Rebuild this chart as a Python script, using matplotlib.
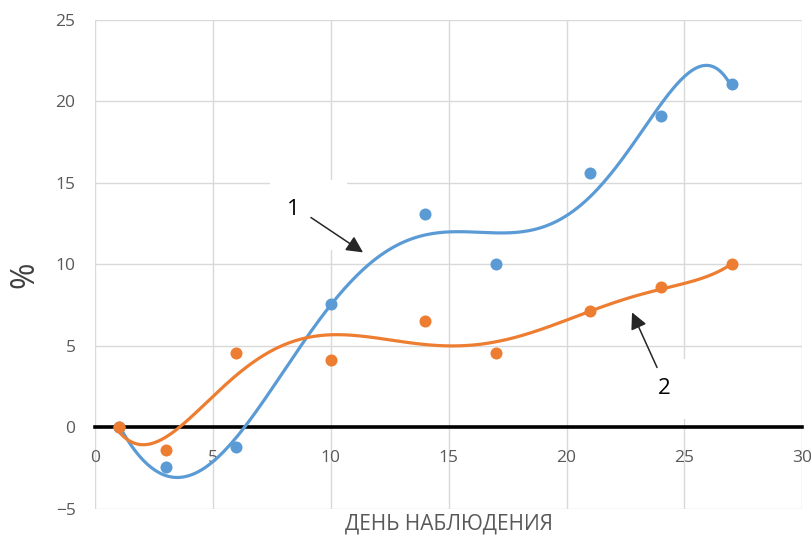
import matplotlib.pyplot as plt
import numpy as np
from matplotlib.patches import Rectangle

# observation days and measured values, %
days = [1, 3, 6, 10, 14, 17, 21, 24, 27]
series_1 = [0, -2.45, -1.17, 7.55, 13.07, 10.0, 15.64, 19.08, 21.04]
series_2 = [0, -1.41, 4.54, 4.11, 6.56, 4.54, 7.12, 8.59, 10.0]

x_ticks = [0, 5, 10, 15, 20, 25, 30]
y_ticks = [-5, 0, 5, 10, 15, 20, 25]

BLUE = "#5B9BD5"
ORANGE = "#ED7D31"
GRID = "#D9D9D9"
TEXT = "#595959"
POLY_ORDER = 6

plt.rcParams["font.family"] = ["Open Sans", "DejaVu Sans"]

fig = plt.figure(figsize=(8.12, 5.39), dpi=100)
ax = fig.add_axes([0.117, 0.0557, 0.871, 0.9073])

ax.set_xlim(0, 30)
ax.set_ylim(-5, 25)
ax.set_xticks(x_ticks)
ax.set_yticks(y_ticks)
ax.grid(True, color=GRID, linewidth=1)
ax.set_axisbelow(True)

for side in ["top", "right", "left"]:
    ax.spines[side].set_visible(False)
# horizontal axis crosses at zero, drawn as a thick black line
ax.spines["bottom"].set_position(("data", 0))
ax.spines["bottom"].set_color("black")
ax.spines["bottom"].set_linewidth(2.6)
ax.spines["bottom"].set_zorder(1.5)

ax.tick_params(axis="both", length=0, labelsize=12.5, labelcolor=TEXT)
ax.tick_params(axis="x", pad=16)
ax.tick_params(axis="y", pad=14)

# blank boxes behind the callout labels
ax.add_patch(Rectangle((7.42, 10.9), 3.27, 4.3, facecolor="white",
                       edgecolor="none", zorder=1))
ax.add_patch(Rectangle((23.1, 0.5), 2.6, 3.7, facecolor="white",
                       edgecolor="none", zorder=1))

# polynomial trendlines
xs = np.linspace(min(days), max(days), 300)
for ys, color in [(series_1, BLUE), (series_2, ORANGE)]:
    coef = np.polyfit(days, ys, POLY_ORDER)
    ax.plot(xs, np.polyval(coef, xs), color=color, linewidth=2.3, zorder=3)
    ax.scatter(days, ys, s=75, color=color, zorder=4, linewidths=0)

arrow = dict(arrowstyle="-|>,head_length=1.0,head_width=0.5",
             color="#262626", linewidth=1.1, shrinkA=0, shrinkB=0)
ax.annotate("", xy=(11.37, 10.74), xytext=(9.16, 12.88), arrowprops=arrow,
            zorder=5)
ax.text(8.4, 13.4, "1", fontsize=16, ha="center", va="center", zorder=5)
ax.annotate("", xy=(22.78, 7.06), xytext=(23.84, 3.68), arrowprops=arrow,
            zorder=5)
ax.text(24.14, 2.4, "2", fontsize=16, ha="center", va="center", zorder=5)

ax.set_xlabel("ДЕНЬ НАБЛЮДЕНИЯ", fontsize=15, color=TEXT)
ax.xaxis.set_label_coords(0.5, -0.01)
fig.text(0.031, 0.49, "%", fontsize=23, color="#404040", rotation=90,
         ha="center", va="center")

fig.savefig("out.png", dpi=100)
